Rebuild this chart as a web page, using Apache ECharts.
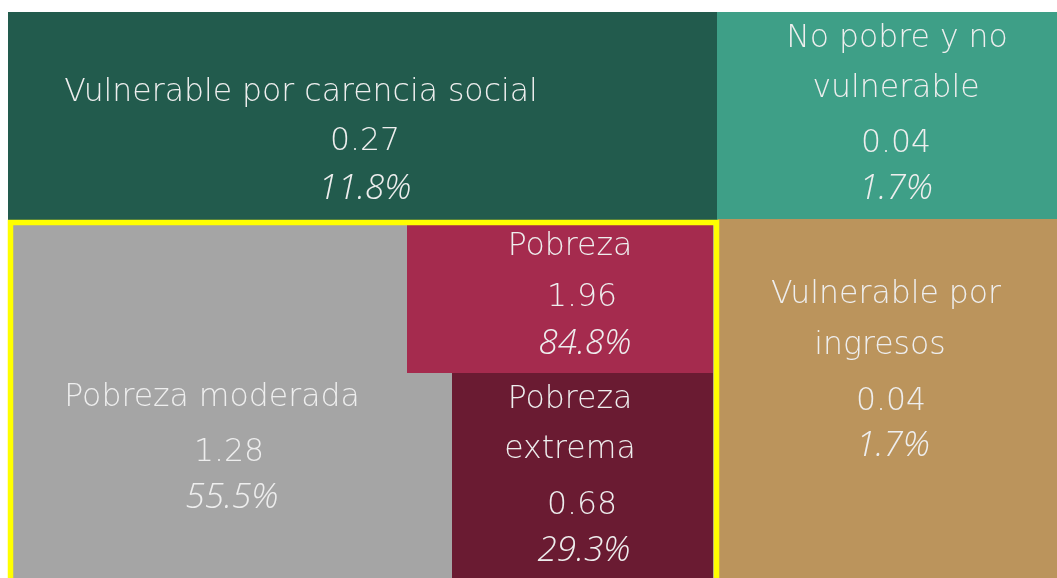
<!DOCTYPE html>
<html>
<head>
<meta charset="utf-8">
<script src="https://cdn.jsdelivr.net/npm/echarts@6/dist/echarts.min.js"></script>
<style>
  html, body { margin: 0; padding: 0; background: #fff; }
  #chart { width: 1057px; height: 578px; }
</style>
</head>
<body>
<div id="chart"></div>
<script>
// categorias del cuadrante de pobreza
const categories = ['Vulnerable por carencia social', 'No pobre y no vulnerable', 'Pobreza', 'Pobreza moderada', 'Pobreza extrema', 'Vulnerable por ingresos'];
// millones de personas
const millions = [0.27, 0.04, 1.96, 1.28, 0.68, 0.04];
// porcentaje de la poblacion
const percents = [11.8, 1.7, 84.8, 55.5, 29.3, 1.7];

// como se parte el nombre en renglones
const nameLines = [
    ['Vulnerable por carencia social'],
    ['No pobre y no', 'vulnerable'],
    ['Pobreza'],
    ['Pobreza moderada'],
    ['Pobreza', 'extrema'],
    ['Vulnerable por', 'ingresos']
];

const colors = ['#225B4D', '#3E9F87', '#A52B4E', '#A5A5A5', '#6A1B32', '#BB945C'];

// cajas en unidades del eje: x0, y0, x1, y1
const boxes = [
    [8, 12, 718, 220],
    [717, 12, 1057, 220],
    [407, 225, 713, 373],
    [8, 220, 718, 578],
    [452, 373, 713, 578],
    [718, 219, 1057, 578]
];
// centro de cada renglon de texto (nombre..., valor, porcentaje)
const textX = [
    [301, 365, 365],
    [897, 896, 896, 896],
    [570, 582, 585],
    [212, 229, 232],
    [570, 570, 582, 584],
    [886, 880, 891, 893]
];
const textY = [
    [93, 142, 189],
    [39, 89, 144, 189],
    [247, 298, 344],
    [398, 453, 498],
    [400, 450, 506, 551],
    [295, 346, 402, 446]
];

// orden de dibujo (la gris va debajo de las de pobreza)
const drawOrder = [0, 1, 5, 3, 2, 4];

const fontFamily = '"DejaVu Sans ExtraLight", "DejaVu Sans", sans-serif';
const italicFamily = '"Open Sans", "Lato", sans-serif';
const textColor = '#EEEEEE';

function renderCell(params, api) {
    const i = api.value(4);
    const p0 = api.coord([api.value(0), api.value(1)]);
    const p1 = api.coord([api.value(2), api.value(3)]);
    const children = [{
        type: 'rect',
        shape: {x: p0[0], y: p0[1], width: p1[0] - p0[0], height: p1[1] - p0[1]},
        style: {fill: colors[i]}
    }];
    const lines = nameLines[i].concat([millions[i].toFixed(2), percents[i].toFixed(1) + '%']);
    lines.forEach((t, k) => {
        const pt = api.coord([textX[i][k], textY[i][k]]);
        const isPct = k === lines.length - 1;
        children.push({
            type: 'text',
            style: {
                text: t,
                x: pt[0],
                y: pt[1],
                fill: textColor,
                fontFamily: isPct ? italicFamily : fontFamily,
                fontWeight: isPct ? 300 : 200,
                fontStyle: isPct ? 'italic' : 'normal',
                fontSize: isPct ? 35 : 31.5,
                align: 'center',
                verticalAlign: 'middle'
            }
        });
    });
    return {type: 'group', children: children};
}

function renderFrame(params, api) {
    const p0 = api.coord([api.value(0), api.value(1)]);
    const p1 = api.coord([api.value(2), api.value(3)]);
    return {
        type: 'rect',
        shape: {x: p0[0], y: p0[1], width: p1[0] - p0[0], height: p1[1] - p0[1]},
        style: {fill: 'none', stroke: '#FFFF00', lineWidth: 5.5}
    };
}

const chart = echarts.init(document.getElementById('chart'));
chart.setOption({
    animation: false,
    grid: {left: 0, right: 0, top: 0, bottom: 0},
    xAxis: {type: 'value', min: 0, max: 1057, show: false},
    yAxis: {type: 'value', min: 0, max: 578, inverse: true, show: false},
    series: [
        {
            type: 'custom',
            name: 'cuadrante',
            renderItem: renderCell,
            encode: {x: [0, 2], y: [1, 3]},
            data: drawOrder.map(i => boxes[i].concat([i]))
        },
        {
            type: 'custom',
            name: 'pobreza',
            renderItem: renderFrame,
            encode: {x: [0, 2], y: [1, 3]},
            data: [[10.5, 222.5, 716.5, 595]]
        }
    ]
});
</script>
</body>
</html>
